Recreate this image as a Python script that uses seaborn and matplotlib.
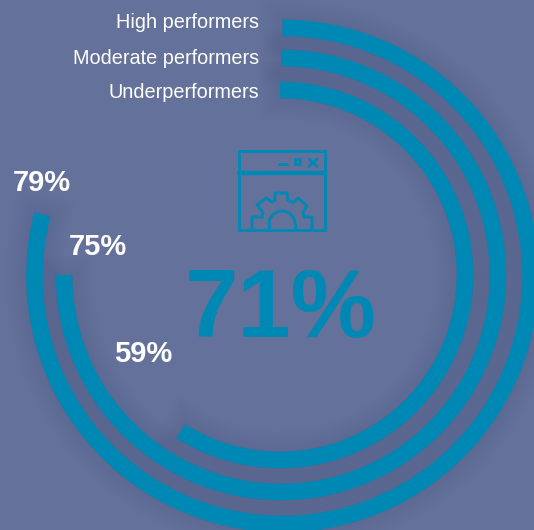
import numpy as np
import pandas as pd
import matplotlib
matplotlib.use("Agg")
import matplotlib.pyplot as plt
import matplotlib.patheffects as pe
import seaborn as sns

# Survey results by performer group
groups = ["High performers", "Moderate performers", "Underperformers"]
shares = [79, 75, 59]
headline = "71%"

BG = "#64719A"
TEAL = "#0088B4"
W, H = 534, 530
RMAX = 260
ring_centers = [(282.5, 276), (281, 275), (280, 275)]
ring_radii = [248, 217, 185]
ring_band = 16.5

sns.set_theme(style="white")
plt.rcParams["font.family"] = ["Liberation Sans", "DejaVu Sans"]

fig = plt.figure(figsize=(W / 100, H / 100), dpi=100, facecolor=BG)

df = pd.DataFrame({"group": groups, "share": shares, "radius": ring_radii})
df["theta"] = df["share"] / 100 * 2 * np.pi


def draw_ring(row, center, effects):
    """One progress arc on its own clockwise polar axis starting at 12 o'clock."""
    cx, cy = center
    ax = fig.add_axes([(cx - RMAX) / W, (H - cy - RMAX) / H, 2 * RMAX / W, 2 * RMAX / H],
                      projection="polar", facecolor="none")
    ax.set_theta_zero_location("N")
    ax.set_theta_direction(-1)
    sns.barplot(x=[row.theta], y=[row.radius], orient="y", native_scale=True,
                width=ring_band, color=TEAL, saturation=1, ax=ax, legend=False)
    ax.set_ylim(0, RMAX)
    ax.set_xlim(0, 2 * np.pi)
    ax.set_axis_off()
    for patch in ax.patches:
        patch.set_linewidth(0)
        patch.set_clip_on(False)
        patch.set_path_effects(effects)


# Soft dark halo goes down first so it never tints a neighbouring ring
halo = [pe.Stroke(linewidth=w, foreground="#2F3A5E", alpha=0.017) for w in range(30, 1, -4)]
rows = list(df.itertuples())
for row, center in zip(rows, ring_centers):
    draw_ring(row, center, halo)
for row, center in zip(rows, ring_centers):
    draw_ring(row, center, [pe.Normal()])

# Overlay in pixel coordinates for the captions and the icon
ov = fig.add_axes([0, 0, 1, 1], facecolor="none")
ov.set_xlim(0, W)
ov.set_ylim(H, 0)
ov.set_axis_off()

for name, y in zip(groups, [23, 58, 93]):
    ov.text(259, y, name, color="white", fontsize=14.3, ha="right", va="center")
for share, (x, y) in zip(shares, [(41.5, 183), (97.5, 247), (143.5, 354)]):
    ov.text(x, y, f"{share}%", color="white", fontsize=21, fontweight="bold",
            ha="center", va="center")
ov.text(281, 312, headline, color=TEAL, fontsize=69, fontweight="bold",
        ha="center", va="center")

# Browser window with a gear
icon = dict(color=TEAL, lw=2.1, solid_joinstyle="round", solid_capstyle="round")
ov.plot([238.5, 325, 325, 238.5, 238.5], [150.5, 150.5, 230, 230, 150.5], **icon)
ov.plot([238.5, 325], [173, 173], color=TEAL, lw=3.2)
ov.plot([279, 287], [163.5, 163.5], **icon)
ov.plot([295, 300, 300, 295, 295], [159, 159, 164, 164, 159], **icon)
ov.plot([309, 317], [159, 166.5], **icon)
ov.plot([317, 309], [159, 166.5], **icon)
gear_x = [252, 252, 262, 263, 257, 266, 272, 275, 275, 287, 288, 293, 298, 307, 303, 304, 312, 312]
gear_y = [230, 217, 217, 212, 205, 198, 202, 200, 193, 193, 200, 203, 198, 206, 212, 217, 217, 230]
ov.plot(gear_x, gear_y, **icon)
hub = np.linspace(np.pi, 2 * np.pi, 40)
ov.plot(282 + 13 * np.cos(hub), 224 + 13 * np.sin(hub), **icon)
ov.plot([269, 269], [224, 230], **icon)
ov.plot([295, 295], [224, 230], **icon)

fig.savefig("out.png", dpi=100, facecolor=BG)
